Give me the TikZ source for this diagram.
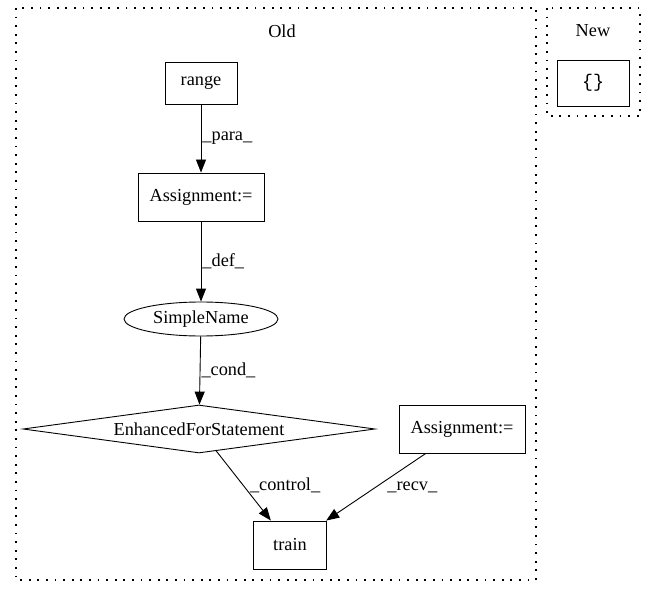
\documentclass[tikz,border=0pt]{standalone}
\usepackage{fontspec}
\setmainfont{Liberation Serif}
\setmonofont{Liberation Mono}
\usetikzlibrary{shapes.geometric,arrows.meta}
\tikzset{
  every node/.style={font=\fontsize{18.3}{22}\selectfont},
  boxnode/.style={draw, line width=0.9pt, rectangle, inner sep=0pt},
  ellnode/.style={draw, line width=0.9pt, ellipse, inner sep=0pt, minimum width=154pt, minimum height=34pt},
  dianode/.style={draw, line width=0.9pt, diamond, aspect=7.33, inner sep=0pt, minimum width=352pt, minimum height=48pt},
  cluster/.style={draw, line width=1.2pt, dash pattern=on 1.8pt off 6.8pt},
  edge/.style={line width=0.9pt, -{Triangle[length=13pt,width=10pt]}},
  elabel/.style={anchor=west, inner sep=0pt}
}
\begin{document}
\begin{tikzpicture}[x=1pt,y=-1pt]
\useasboundingbox (0,0) rectangle (656,596);
\draw[cluster] (16,8) rectangle (536,580);
\draw[cluster] (547,8) rectangle (640,116);
\node (oldlbl) at (282,31) {Old};
\node (newlbl) at (593,31) {New};
\node[boxnode, minimum width=72pt, minimum height=42pt] (range) at (201,83) {range};
\node[boxnode, minimum width=126pt, minimum height=48pt] (asg1) at (201,197) {Assignment:=};
\node[ellnode] (sn) at (201,319) {SimpleName};
\node[dianode] (efs) at (199,429) {EnhancedForStatement};
\node[boxnode, minimum width=126pt, minimum height=48pt] (asg2) at (462,429) {Assignment:=};
\node[boxnode, minimum width=73pt, minimum height=48pt] (train) at (290,545) {train};
\node[boxnode, minimum width=72pt, minimum height=46pt] (empty) at (593,83) {\ttfamily\{\}};
\draw[edge] (range) -- node[elabel, xshift=1pt] {\_para\_} (asg1);
\draw[edge] (asg1) -- node[elabel, xshift=1pt] {\_def\_} (sn);
\draw[edge] (sn) -- node[elabel, xshift=1pt] {\_cond\_} (efs);
\draw[edge] (efs) -- node[elabel, xshift=6pt] {\_control\_} (train);
\draw[edge] (asg2) -- node[elabel, xshift=11pt] {\_recv\_} (train);
\end{tikzpicture}
\end{document}
